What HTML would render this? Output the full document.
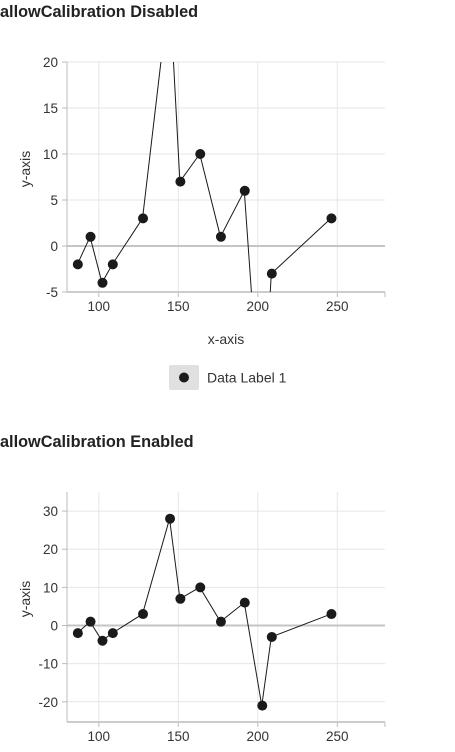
<!DOCTYPE html>
<html><head><meta charset="utf-8"><style>
body{margin:0;width:455px;height:752px;background:#fff;overflow:hidden;font-family:"Liberation Sans",sans-serif}
svg{position:absolute;left:0;top:0}
</style></head><body>
<svg id="c" width="455" height="752" font-family="Liberation Sans, sans-serif"></svg>
<script>
const xValues=[86.5,94.5,102,108.5,127.5,144.5,151,163.5,176.5,191.5,202.5,208.5,246];
const yValues=[-2,1,-4,-2,3,28,7,10,1,6,-21,-3,3];
const xTicks=[100,150,200,250];
const yTicksTop=[20,15,10,5,0,-5];
const yTicksBottom=[30,20,10,0,-10,-20];
const NS='http://www.w3.org/2000/svg';
const svg=document.getElementById('c');
function mk(t,a,p){const e=document.createElementNS(NS,t);for(const k in a)e.setAttribute(k,a[k]);(p||svg).appendChild(e);return e;}
function chart(id,top,bottom,ymin,ymax,yTicks,titleY,title){
  const L=67,R=385;
  const x=v=>L+(v-80)/(280-80)*(R-L);
  const y=v=>bottom-(v-ymin)/(ymax-ymin)*(bottom-top);
  const g=mk('g',{});
  
  
  const t=mk('text',{x:0,y:titleY,'font-size':16.3,'font-weight':'bold',fill:'#222'},g);t.textContent=title;
  
  mk('clipPath',{id:'cp'+id},g).appendChild(mk('rect',{x:L,y:top,width:R-L,height:bottom-top}));
  xTicks.forEach(v=>{mk('line',{x1:x(v),x2:x(v),y1:top,y2:bottom,stroke:'#e6e6e6'},g);
    mk('line',{x1:x(v),x2:x(v),y1:bottom,y2:bottom+5,stroke:'#bbb'},g);
    const tx=mk('text',{x:x(v),y:bottom+19,'font-size':13.5,'text-anchor':'middle',fill:'#333'},g);tx.textContent=v;
    });
  mk('line',{x1:R,x2:R,y1:bottom,y2:bottom+5,stroke:'#bbb'},g);
  yTicks.forEach(v=>{mk('line',{x1:L,x2:R,y1:y(v),y2:y(v),stroke:v===0?'#c4c4c4':'#e6e6e6','stroke-width':v===0?2:1},g);
    mk('line',{x1:L-5,x2:L,y1:y(v),y2:y(v),stroke:'#bbb'},g);
    const ty=mk('text',{x:L-9,y:y(v)+5,'font-size':13.5,'text-anchor':'end',fill:'#333'},g);ty.textContent=v;
    });
  mk('line',{x1:L,x2:L,y1:top,y2:bottom,stroke:'#bbb'},g);
  mk('line',{x1:L,x2:R,y1:bottom,y2:bottom,stroke:'#ccc','stroke-width':2},g);
  const yl=mk('text',{x:0,y:0,'font-size':14,'text-anchor':'middle',fill:'#333',transform:`translate(30,${(top+bottom)/2-8}) rotate(-90)`},g);yl.textContent='y-axis';
  
  const pg=mk('g',{'clip-path':`url(#cp${id})`},g);
  mk('polyline',{points:xValues.map((v,i)=>x(v)+','+y(yValues[i])).join(' '),fill:'none',stroke:'#1a1a1a','stroke-width':1},pg);
  xValues.forEach((v,i)=>{const c=mk('circle',{cx:x(v)+0.5,cy:y(yValues[i]),r:5,fill:'#1a1a1a'},pg);
    });
  return g;
}
chart('chart-disabled',62,292,-5,20,yTicksTop,17,'allowCalibration Disabled');
chart('chart-enabled',492,722,-25.3,35,yTicksBottom,447,'allowCalibration Enabled');
const xl=mk('text',{x:226,y:344,'font-size':14,'text-anchor':'middle',fill:'#333'});xl.textContent='x-axis';

const lg=mk('g',{});


mk('rect',{x:169,y:365,width:30,height:25,rx:2,fill:'#e0e0e0'},lg);
mk('circle',{cx:184,cy:377.5,r:5,fill:'#1a1a1a'},lg);
const lt=mk('text',{x:207,y:382.5,'font-size':14,fill:'#333'},lg);lt.textContent='Data Label 1';
</script>
</body></html>
